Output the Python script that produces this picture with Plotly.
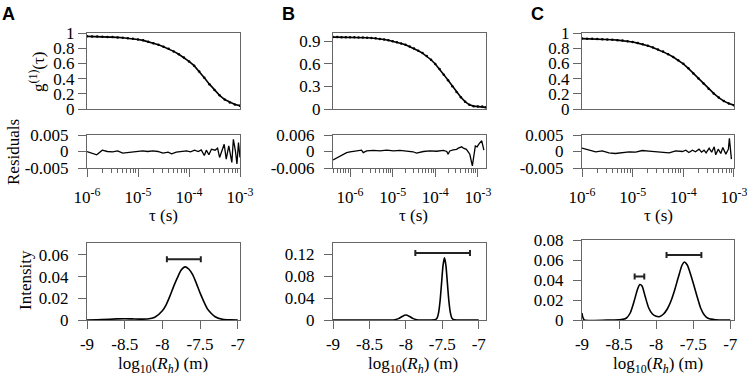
import plotly.graph_objects as go

W, H = 747, 379

# ---------------- data ----------------
# correlation functions g1(tau); x given as log10(tau / s)
logtau_A = [-6.0, -5.9, -5.8, -5.7, -5.6, -5.5, -5.4, -5.3, -5.2, -5.1, -5.0, -4.9, -4.8, -4.7, -4.6,
            -4.5, -4.4, -4.3, -4.2, -4.1, -4.0, -3.9, -3.8, -3.7, -3.6, -3.5, -3.4, -3.3, -3.2, -3.1, -3.0]
g1_A = [0.956, 0.955, 0.953, 0.951, 0.949, 0.946, 0.942, 0.937, 0.931, 0.924, 0.915, 0.903, 0.886, 0.866,
        0.845, 0.82, 0.792, 0.758, 0.72, 0.677, 0.626, 0.57, 0.495, 0.41, 0.327, 0.25, 0.18, 0.125, 0.087,
        0.06, 0.044]

logtau_B = [-6.4, -6.3, -6.2, -6.1, -6.0, -5.9, -5.8, -5.7, -5.6, -5.5, -5.4, -5.3, -5.2, -5.1, -5.0,
            -4.9, -4.8, -4.7, -4.6, -4.5, -4.4, -4.3, -4.2, -4.1, -4.0, -3.9, -3.8, -3.7, -3.6, -3.5,
            -3.4, -3.3, -3.2, -3.1, -3.0, -2.9, -2.82]
g1_B = [0.952, 0.952, 0.951, 0.951, 0.95, 0.949, 0.947, 0.945, 0.943, 0.94, 0.935, 0.928, 0.92, 0.909,
        0.897, 0.884, 0.868, 0.849, 0.826, 0.80, 0.772, 0.74, 0.70, 0.652, 0.595, 0.53, 0.455, 0.38, 0.30,
        0.225, 0.155, 0.097, 0.055, 0.038, 0.034, 0.033, 0.022]

logtau_C = [-6.0, -5.9, -5.8, -5.7, -5.6, -5.5, -5.4, -5.3, -5.2, -5.1, -5.0, -4.9, -4.8, -4.7, -4.6,
            -4.5, -4.4, -4.3, -4.2, -4.1, -4.0, -3.9, -3.8, -3.7, -3.6, -3.5, -3.4, -3.3, -3.2, -3.1, -3.0]
g1_C = [0.926, 0.925, 0.923, 0.921, 0.918, 0.915, 0.911, 0.906, 0.90, 0.892, 0.881, 0.867, 0.851, 0.832,
        0.809, 0.783, 0.755, 0.722, 0.684, 0.641, 0.594, 0.535, 0.468, 0.40, 0.335, 0.268, 0.205, 0.15,
        0.104, 0.072, 0.05]

# residuals of the fits
res_logtau_A = [-6.0, -5.93, -5.81, -5.70, -5.60, -5.50, -5.40, -5.30, -5.20, -5.11, -5.01, -4.91, -4.81,
                -4.71, -4.61, -4.51, -4.41, -4.34, -4.25, -4.15, -4.05, -3.97, -3.89, -3.82, -3.76, -3.70,
                -3.66, -3.61, -3.56, -3.49, -3.44, -3.40, -3.35, -3.31, -3.27, -3.22, -3.16, -3.13, -3.09,
                -3.06, -3.03, -3.0]
res_A = [0.0, -0.0004, -0.001, 0.0004, 0.0, -0.0001, 0.0002, -0.0005, -0.0003, -0.0001, 0.0001, 0.0002,
         0.0, 0.0002, 0.0, -0.0005, -0.0002, -0.0007, -0.0002, 0.0, 0.0002, -0.0001, 0.0004, 0.0, 0.0005,
         -0.0012, 0.0004, -0.001, 0.0007, 0.0004, 0.001, -0.0018, 0.0002, 0.0022, -0.0023, 0.0017,
         -0.0033, 0.0037, 0.0002, -0.0038, 0.0027, -0.0018]

res_logtau_B = [-6.40, -6.23, -6.08, -6.0, -5.84, -5.73, -5.69, -5.61, -5.45, -5.30, -5.14, -4.98, -4.83,
                -4.67, -4.52, -4.44, -4.28, -4.13, -3.97, -3.81, -3.73, -3.70, -3.66, -3.58, -3.50, -3.46,
                -3.38, -3.34, -3.27, -3.19, -3.13, -3.06, -3.02, -2.97, -2.91, -2.86]
res_B = [-0.0031, -0.0016, -0.0004, -0.0001, 0.0002, 0.0005, -0.0004, 0.0002, 0.0004, 0.0002, 0.0005,
         0.0002, 0.0004, 0.0001, -0.0001, -0.0006, 0.0, 0.0002, 0.0001, 0.0004, 0.0, -0.001, 0.0002, 0.0006,
         0.0008, 0.0012, 0.0017, 0.0012, 0.0008, -0.001, -0.0052, 0.002, 0.0017, 0.0029, 0.0039, 0.0005]

res_logtau_C = [-6.0, -5.86, -5.73, -5.60, -5.47, -5.34, -5.20, -5.07, -4.94, -4.81, -4.68, -4.55, -4.41,
                -4.28, -4.15, -4.02, -3.95, -3.89, -3.82, -3.76, -3.69, -3.64, -3.59, -3.55, -3.49, -3.44,
                -3.39, -3.36, -3.31, -3.26, -3.22, -3.16, -3.11, -3.09, -3.05]
res_C = [0.001, 0.0004, -0.0001, 0.0002, -0.0004, -0.0006, -0.0004, -0.0001, -0.0002, 0.0003, 0.0001, 0.0,
         -0.0001, -0.0004, 0.0002, 0.0, 0.0004, -0.0003, 0.0004, -0.0001, 0.0007, -0.0002, 0.0004, -0.0004,
         0.001, -0.0002, 0.0014, -0.001, 0.0007, -0.0006, 0.0012, -0.0008, 0.0007, 0.004, -0.0023]

# size distributions: log10(Rh / m) vs intensity
logRh_A = [-9.0, -8.8, -8.6, -8.5, -8.4, -8.3, -8.2, -8.1, -8.0, -7.95, -7.9, -7.85, -7.8, -7.75, -7.7,
           -7.65, -7.6, -7.55, -7.5, -7.45, -7.4, -7.35, -7.3, -7.2, -7.1, -7.0]
int_A = [0.0, 0.0003, 0.001, 0.0012, 0.001, 0.0008, 0.0009, 0.0025, 0.0085, 0.014, 0.022, 0.031, 0.039,
         0.046, 0.049, 0.047, 0.042, 0.034, 0.025, 0.017, 0.010, 0.006, 0.003, 0.0006, 0.0001, 0.0]

logRh_B = [-9.0, -8.5, -8.2, -8.15, -8.1, -8.05, -8.0, -7.95, -7.9, -7.85, -7.8, -7.65, -7.59, -7.57,
           -7.55, -7.53, -7.51, -7.49, -7.47, -7.45, -7.43, -7.41, -7.39, -7.37, -7.35, -7.3, -7.0]
int_B = [0.0, 0.0, 0.0, 0.0006, 0.0025, 0.0065, 0.009, 0.0065, 0.0025, 0.0006, 0.0, 0.0, 0.001, 0.004,
         0.014, 0.035, 0.067, 0.099, 0.113, 0.099, 0.067, 0.035, 0.014, 0.004, 0.001, 0.0, 0.0]

logRh_C = [-9.0, -8.99, -8.97, -8.6, -8.5, -8.45, -8.4, -8.35, -8.3, -8.25, -8.22, -8.19, -8.15, -8.1,
           -8.05, -8.0, -7.95, -7.9, -7.85, -7.8, -7.75, -7.7, -7.65, -7.62, -7.58, -7.55, -7.5, -7.45,
           -7.4, -7.35, -7.3, -7.2, -7.0]
int_C = [0.007, 0.003, 0.0, 0.0, 0.0002, 0.0006, 0.002, 0.007, 0.018, 0.031, 0.0355, 0.034, 0.024, 0.012,
         0.006, 0.0037, 0.0035, 0.006, 0.011, 0.019, 0.030, 0.043, 0.055, 0.058, 0.055, 0.049, 0.037, 0.024,
         0.012, 0.005, 0.0017, 0.0002, 0.0]

# horizontal bars: (low, high, height)
bars_A = [(-7.94, -7.49, 0.056)]
bars_B = [(-7.87, -7.12, 0.122)]
bars_C = [(-8.29, -8.16, 0.0435), (-7.86, -7.39, 0.065)]

# axis ticks
g1_ticks_A = [0, 0.2, 0.4, 0.6, 0.8, 1]
g1_ticks_B = [0, 0.3, 0.6, 0.9]
g1_ticks_C = [0, 0.2, 0.4, 0.6, 0.8, 1]
res_ticks_A = [-0.005, 0, 0.005]
res_ticks_B = [-0.006, 0, 0.006]
res_ticks_C = [-0.005, 0, 0.005]
int_ticks_A = [0, 0.02, 0.04, 0.06]
int_ticks_B = [0, 0.04, 0.08, 0.12]
int_ticks_C = [0, 0.02, 0.04, 0.06, 0.08]
tau_ticks = [1e-6, 1e-5, 1e-4, 1e-3]
tau_ticktext = ["10<sup>-6</sup>", "10<sup>-5</sup>", "10<sup>-4</sup>", "10<sup>-3</sup>"]
rh_ticks = [-9, -8.5, -8, -7.5, -7]
rh_ticktext = ["-9", "-8.5", "-8", "-7.5", "-7"]

# ---------------- layout helpers ----------------
FONT = "Liberation Serif"
LINE = "#666666"
FS = 17


def px_x(a, b):
    return [a / W, b / W]


def px_y(top, bottom):
    return [1 - bottom / H, 1 - top / H]


def lab(v):
    return "0" if v == 0 else ("%g" % v)


def base_axis(**kw):
    d = dict(showline=True, linecolor=LINE, linewidth=1, mirror=True, ticks="outside", tickcolor=LINE,
             ticklen=8, tickwidth=1, showgrid=False, zeroline=False, automargin=False,
             ticklabeloverflow="allow",
             tickfont=dict(family=FONT, size=FS, color="black"))
    d.update(kw)
    return d


panels = [
    dict(x=(87, 240), logtau=logtau_A, g1=g1_A, rlt=res_logtau_A, res=res_A, rrange=[-0.005, 0.005],
         rticks=res_ticks_A, gticks=g1_ticks_A, grange=[0, 1], taurange=[-6, -3],
         lrh=logRh_A, inten=int_A, irange=[0, 0.071], iticks=int_ticks_A, irow=(243, 320), bars=bars_A,
         xr=[-9, -6.97]),
    dict(x=(333, 486), logtau=logtau_B, g1=g1_B, rlt=res_logtau_B, res=res_B, rrange=[-0.006, 0.006],
         rticks=res_ticks_B, gticks=g1_ticks_B, grange=[0, 1.006], taurange=[-6.4, -2.81],
         lrh=logRh_B, inten=int_B, irange=[0, 0.14], iticks=int_ticks_B, irow=(243, 320), bars=bars_B,
         xr=[-9, -6.9]),
    dict(x=(582, 734), logtau=logtau_C, g1=g1_C, rlt=res_logtau_C, res=res_C, rrange=[-0.005, 0.005],
         rticks=res_ticks_C, gticks=g1_ticks_C, grange=[0, 1], taurange=[-6, -2.999],
         lrh=logRh_C, inten=int_C, irange=[0, 0.08], iticks=int_ticks_C, irow=(240, 320), bars=bars_C,
         xr=[-9, -6.95]),
]

fig = go.Figure()
layout = dict(template="none", width=W, height=H, margin=dict(l=0, r=0, t=0, b=0, autoexpand=False),
              showlegend=False, paper_bgcolor="white", plot_bgcolor="white",
              font=dict(family=FONT, size=FS, color="black"))

minor_vals = [m * 10 ** e for e in range(-7, -2) for m in range(2, 10)]


def nm(k):
    return "" if k == 1 else str(k)


for i, p in enumerate(panels):
    n = 3 * i
    ax_top, ax_res, ax_int = n + 1, n + 2, n + 3
    xd = px_x(*p["x"])
    taus = [10 ** v for v in p["logtau"]]
    rtaus = [10 ** v for v in p["rlt"]]

    # top: g1
    fig.add_trace(go.Scatter(x=taus, y=p["g1"], mode="lines+markers",
                             line=dict(color="black", width=1.6), marker=dict(size=2.5, color="black"),
                             xaxis="x" + nm(ax_top), yaxis="y" + nm(ax_top)))
    layout["xaxis" + nm(ax_top)] = base_axis(domain=xd, type="log", range=p["taurange"], ticks="",
                                             showticklabels=False, anchor="y" + nm(ax_top))
    layout["yaxis" + nm(ax_top)] = base_axis(domain=px_y(33, 109), range=p["grange"], tickmode="array",
                                             tickvals=p["gticks"], ticktext=[lab(v) for v in p["gticks"]],
                                             anchor="x" + nm(ax_top))
    # residuals
    fig.add_trace(go.Scatter(x=rtaus, y=p["res"], mode="lines", line=dict(color="black", width=1.3),
                             xaxis="x" + nm(ax_res), yaxis="y" + nm(ax_res)))
    layout["xaxis" + nm(ax_res)] = base_axis(domain=xd, type="log", range=p["taurange"], tickmode="array",
                                             tickvals=tau_ticks, ticktext=tau_ticktext, ticklabelstandoff=6,
                                             minor=dict(tickmode="array", tickvals=minor_vals, ticklen=4,
                                                        tickcolor=LINE, ticks="outside"),
                                             anchor="y" + nm(ax_res))
    layout["yaxis" + nm(ax_res)] = base_axis(domain=px_y(135, 168), range=p["rrange"], tickmode="array",
                                             tickvals=p["rticks"], ticktext=[lab(v) for v in p["rticks"]],
                                             ticklabelstandoff=6, anchor="x" + nm(ax_res))
    # intensity
    fig.add_trace(go.Scatter(x=p["lrh"], y=p["inten"], mode="lines", line=dict(color="black", width=1.6),
                             line_shape="spline", line_smoothing=0.6,
                             xaxis="x" + nm(ax_int), yaxis="y" + nm(ax_int)))
    for lo, hi, yb in p["bars"]:
        mid = (lo + hi) / 2
        fig.add_trace(go.Scatter(x=[mid], y=[yb], mode="markers", marker=dict(size=1, opacity=0),
                                 error_x=dict(type="data", symmetric=False, array=[hi - mid],
                                              arrayminus=[mid - lo], width=3, thickness=2, color="#222"),
                                 xaxis="x" + nm(ax_int), yaxis="y" + nm(ax_int)))
    layout["xaxis" + nm(ax_int)] = base_axis(domain=xd, range=p["xr"], tickmode="array", tickvals=rh_ticks,
                                             ticktext=rh_ticktext, ticklabelstandoff=1,
                                             anchor="y" + nm(ax_int))
    layout["yaxis" + nm(ax_int)] = base_axis(domain=px_y(*p["irow"]), range=p["irange"], tickmode="array",
                                             tickvals=p["iticks"], ticktext=[lab(v) for v in p["iticks"]],
                                             ticklabelstandoff=6, anchor="x" + nm(ax_int))

fig.update_layout(**layout)

ann = []


def add_text(text, xpx, ypx, angle=0, size=FS, family=FONT, bold=False):
    ann.append(dict(text=("<b>%s</b>" % text) if bold else text, x=xpx / W, y=1 - ypx / H, xref="paper",
                    yref="paper", showarrow=False, textangle=angle, xanchor="center", yanchor="middle",
                    font=dict(family=family, size=size, color="black")))


add_text("A", 8.5, 14, size=18, family="Liberation Sans", bold=True)
add_text("B", 288, 14, size=18, family="Liberation Sans", bold=True)
add_text("C", 537, 14, size=18, family="Liberation Sans", bold=True)
add_text("g<sup>(1)</sup>(τ)", 37, 72, angle=-90)
add_text("Residuals", 13, 152, angle=-90)
add_text("Intensity", 25, 280, angle=-90)
for cx in (163, 413, 658):
    add_text("τ (s)", cx, 215)
    add_text("log<sub>10</sub>(<i>R<sub>h</sub></i>) (m)", cx, 365)

fig.update_layout(annotations=ann)
fig.write_html("out.html", config={"displayModeBar": False},
               post_script="document.body.style.margin='0';document.body.style.padding='0';"
                           "document.body.style.overflow='hidden';")
